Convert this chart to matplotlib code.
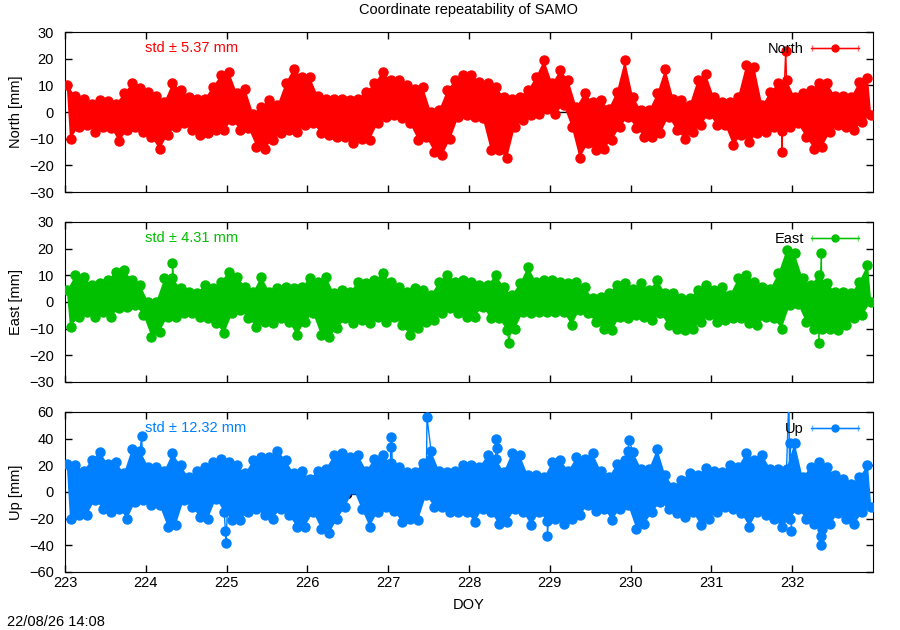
import numpy as np
import matplotlib
matplotlib.use("Agg")
import matplotlib.pyplot as plt
from matplotlib.container import ErrorbarContainer
from matplotlib.legend_handler import HandlerErrorbar
from matplotlib.lines import Line2D

plt.rcParams['font.family'] = ['Liberation Sans', 'DejaVu Sans']
plt.rcParams['font.size'] = 10.5

# scatter in 0.1 day bins (DOY 223.0 ... 232.9):
# upper and lower edge of the cloud in each bin, in mm
bin_start = np.round(np.arange(223.0, 233.0, 0.1), 1)

north_hi = [10, 6, 5, 3, 4.5, 4, 3, 7, 10.8, 9,
            7.6, 6, 3.8, 10.8, 8.2, 5.7, 5, 5, 9.5, 13.8,
            15, 7, 8.8, -0.6, 2, 4.5, 2.6, 10.8, 16.3, 13.2,
            13.2, 6, 5, 5, 5, 4.5, 5, 7.6, 10.8, 15,
            12, 12, 10, 8.8, 9.5, 0, 0.7, 8.2, 12, 13.8,
            13.8, 11.3, 10.8, 9.5, 5.7, 5, 5.7, 8.2, 13.2, 19.5,
            10.8, 15.7, 12, 2, 7, 3.8, 4.5, 1.3, 7.6, 19.5,
            5.7, 0.7, 0.7, 7, 16.3, 5, 4.5, 2.6, 12, 14.4,
            5.7, 3.8, 3.8, 5.7, 17.6, 17, 2.6, 7.6, 10.8, 12,
            5.7, 7, 8.2, 10.8, 10.8, 6, 6, 5.7, 11.3, 12.6]
north_lo = [-10, -5.5, -5, -7.5, -5.5, -6, -11, -6.8, -5.5, -7.5,
            -9.3, -14, -8.7, -5.5, -4.3, -6.8, -8.7, -8, -6.8, -6.8,
            -3, -6.8, -6, -13, -13.7, -10.5, -8, -6.8, -7.5, -5,
            -4.3, -8, -8.7, -9.3, -9.3, -11.8, -10, -10.5, -4.3, -1.8,
            -1.2, -2.4, -4.3, -10.5, -9.3, -15, -16.2, -10, -1.8, -1.2,
            -1.8, -2.4, -14.3, -14.3, -17.4, -5.5, -3, -1.2, -0.6, 1.3,
            -0.6, 2.6, -5.5, -17.4, -11.8, -14.3, -13.7, -10.5, -5.5, -1.8,
            -6, -9.3, -9.3, -8, -1.8, -6.8, -10, -7.5, -5, -0.6,
            -5, -5, -12.4, -8.7, -11.2, -8, -7.5, -5.5, -7, -5.5,
            -4.3, -9.3, -13.7, -13, -7.5, -5, -5.5, -6.8, -3.7, -1.2]
north_spikes = [(231.87, -15.0), (231.92, 23.0)]

east_hi = [4.5, 10.1, 9.5, 6.4, 7, 8.2, 11.4, 12, 8.2, 6.4,
           0.1, 0.1, 8.9, 9, 5.1, 3.9, 3.2, 6.4, 5.1, 7.6,
           11.4, 9.5, 5.7, 3.9, 9.5, 3.9, 5.1, 5.7, 5.1, 5.7,
           8.9, 7.6, 9.5, 3.2, 4.5, 3.9, 7.6, 7, 8.2, 10.7,
           7.6, 5.7, 3.9, 5.1, 4.5, 2.6, 7.6, 10.1, 7.6, 8.2,
           7.6, 6.3, 6.3, 10.1, 5.7, 2.6, 7, 13.2, 7.6, 8.2,
           8.2, 7.6, 7, 7.6, 5.7, 1.3, 2, 3.2, 6.3, 7,
           5, 7, 4.5, 8.2, 3.2, 3.2, 1.3, 1.3, 4.5, 6.3,
           4.5, 5.7, 2.6, 8.8, 10.1, 7.6, 5.7, 5, 10.8, 19.5,
           18.2, 8.8, 6.3, 10, 7, 3.8, 3.8, 3.2, 7.6, 13.8]
east_lo = [-9.3, -5.5, -3.7, -5.5, -3.7, -5.5, -2.4, -1.8, -1.2, -4.9,
           -13, -11.2, -5.5, -5.5, -4.3, -4.3, -5.5, -6.2, -8, -11.8,
           -4.3, -3, -6.2, -9.3, -7.4, -8, -6.2, -7.4, -12.4, -7.4,
           -4.3, -12.4, -13, -9.9, -6.2, -8, -6.8, -8, -5.5, -7.4,
           -5.5, -8.7, -12.4, -9.9, -7.4, -6.8, -4.3, -2.4, -4.3, -5.5,
           -5.5, -1.8, -6.2, -6.2, -10.5, -10, -3.7, -4.3, -3.7, -3.7,
           -3.7, -3.7, -8.7, -3, -4.3, -7.5, -10, -10.5, -5.5, -6.2,
           -5, -5.5, -6.8, -4.3, -8.7, -10, -10.5, -10, -7.5, -5,
           -7.5, -6.8, -6.2, -6.2, -8, -8.7, -5.5, -6.2, -10, -1.2,
           -0.6, -7.5, -10, -10, -10, -10.5, -8.7, -6.2, -5, 0]
east_spikes = [(224.33, 14.5), (228.5, -15.5), (232.33, -15.5), (232.36, 18.5)]

up_hi = [21, 20, 16, 24, 30, 21, 22.5, 14, 32.5, 31,
         19, 19, 16, 29, 20, 11, 16, 19, 22.5, 25,
         22.5, 20, 14, 24, 26, 26, 31, 24, 14, 16,
         10, 16, 17.5, 27.5, 29, 26, 27.5, 16, 25, 27.5,
         22, 19, 15, 15, 22, 31, 16, 15, 16, 20,
         20, 19, 27.5, 25, 15, 29, 27.5, 12.5, 12.5, 11,
         22.5, 24, 16, 26, 25, 29, 16, 11, 21, 24,
         30, 17.5, 17.5, 32.5, 12.5, 4, 9, 14, 12.5, 18,
         16, 15, 20, 19, 29, 24, 27.5, 17.5, 17.5, 17.5,
         37, 11, 19, 22.5, 19, 12.5, 10, 6, 11, 20]
up_lo = [-20, -17.5, -17.5, -6, -12.5, -15, -12.5, -20, -7.5, -6,
         -10, -10, -26, -25, -6, -11, -19, -20, -5, -15,
         -21, -21, -15, -12.5, -17.5, -20, -12.5, -17.5, -26, -26,
         -15, -27.5, -31, -20, -11, 2, -12.5, -26, -15, -11,
         -14, -22.5, -20, -21, -2.5, -11, -11, -15, -15, -15,
         -22.5, -12.5, -15, -24, -22.5, -12.5, -15, -25, -15, -22,
         -20, -24, -20, -17.5, -10, -14, -12.5, -21, -12.5, -10,
         -27.5, -24, -15, -7.5, -12.5, -16, -19, -15, -25, -20,
         -15, -11, -12.5, -16, -26, -15, -17.5, -20, -26, -20,
         -12.5, -20, -24, -28, -24, -16, -20, -24, -15, -11]
up_spikes = [(223.95, 42), (224.985, -29), (224.995, -38), (227.03, 34),
             (227.04, 41), (227.48, 56), (228.34, 40), (228.35, 33),
             (228.97, -33), (229.97, 31), (229.98, 39), (231.96, 74),
             (231.975, 37), (231.99, -29), (232.355, -33), (232.36, -40)]

# daily reference solution (black), mostly hidden behind the cloud
ref_days = [225.5, 226.5, 227.5, 228.5, 229.5, 230.5, 231.5, 232.5]
north_ref = [1.7, 0, -1.5, -0.5, 0, 0.5, 0, 0]
east_ref = [0, 0, -1.5, 1, 1, 0.5, -0.2, 0]
up_ref = [-1, -2, -0.5, 4, 9, 2.5, 4, 5]

std_text = ['std \u00b1 5.37 mm', 'std \u00b1 4.31 mm', 'std \u00b1 12.32 mm']


def small_key(h, orig):
    # legend sample: same style as the data, but a smaller dot
    h.update_from(orig)
    if isinstance(h, Line2D) and h.get_marker() == 'o':
        h.set_markersize(5)


def panel(ax, hi, lo, spikes, ref, color, ecolor, name, std, ymax, ystep):
    hi = np.array(hi)
    lo = np.array(lo)
    t_hi = bin_start + 0.03
    t_lo = bin_start + 0.07
    ax.axhline(0, color='grey', ls=':', lw=0.8, zorder=1)
    ax.plot(ref_days, ref, '-o', color='black', ms=4, lw=1, zorder=1.5)
    ax.fill(np.r_[t_hi, t_lo[::-1]], np.r_[hi, lo[::-1]], color=color, lw=0, zorder=2)
    t = np.r_[t_hi, t_lo, [s[0] for s in spikes]]
    v = np.r_[hi, lo, [s[1] for s in spikes]]
    o = np.argsort(t, kind='stable')
    eb = ax.errorbar(t[o], v[o], xerr=0.014, fmt='-o', color=color, ecolor=ecolor,
                     ms=6.5, lw=1, elinewidth=1, capsize=2.5, zorder=3, label=name)
    ax.legend(handles=[eb], loc='upper right', bbox_to_anchor=(0.99, 0.975),
              frameon=False, markerfirst=False, handlelength=3.3, handletextpad=0.5,
              borderaxespad=0,
              handler_map={ErrorbarContainer: HandlerErrorbar(xerr_size=1.6, update_func=small_key)})
    ax.text(0.099, 0.9, std, color=color, transform=ax.transAxes, va='center')
    ax.set_xlim(223, 233)
    ax.set_ylim(-ymax, ymax)
    ax.set_yticks(np.arange(-ymax, ymax + 1, ystep))
    ax.set_xticks(range(223, 233))
    ax.tick_params(direction='in', top=True, right=True, length=5, width=1)
    ax.tick_params(axis='y', pad=8)
    ax.tick_params(axis='x', pad=3)
    ax.set_ylabel(name + ' [mm]')
    ax.yaxis.set_label_coords(-0.052, 0.5)


fig = plt.figure(figsize=(9, 6.3), dpi=100)
ax_n = fig.add_axes([0.0722, 0.6952, 0.8978, 0.254])
ax_e = fig.add_axes([0.0722, 0.3937, 0.8978, 0.254])
ax_u = fig.add_axes([0.0722, 0.0921, 0.8978, 0.254])

panel(ax_n, north_hi, north_lo, north_spikes, north_ref, '#ff0000', '#ff7070', 'North', std_text[0], 30, 10)
panel(ax_e, east_hi, east_lo, east_spikes, east_ref, '#00c000', '#70e070', 'East', std_text[1], 30, 10)
panel(ax_u, up_hi, up_lo, up_spikes, up_ref, '#0080ff', '#70b8ff', 'Up', std_text[2], 60, 20)
ax_n.tick_params(labelbottom=False)
ax_e.tick_params(labelbottom=False)

fig.text(468 / 900, 1 - 10 / 630, 'Coordinate repeatability of SAMO', ha='center', va='center')
fig.text(469 / 900, 1 - 605 / 630, 'DOY', ha='center', va='center')
fig.text(7 / 900, 1 - 622 / 630, '22/08/26 14:08', va='center')

fig.savefig('out.png', dpi=100)
